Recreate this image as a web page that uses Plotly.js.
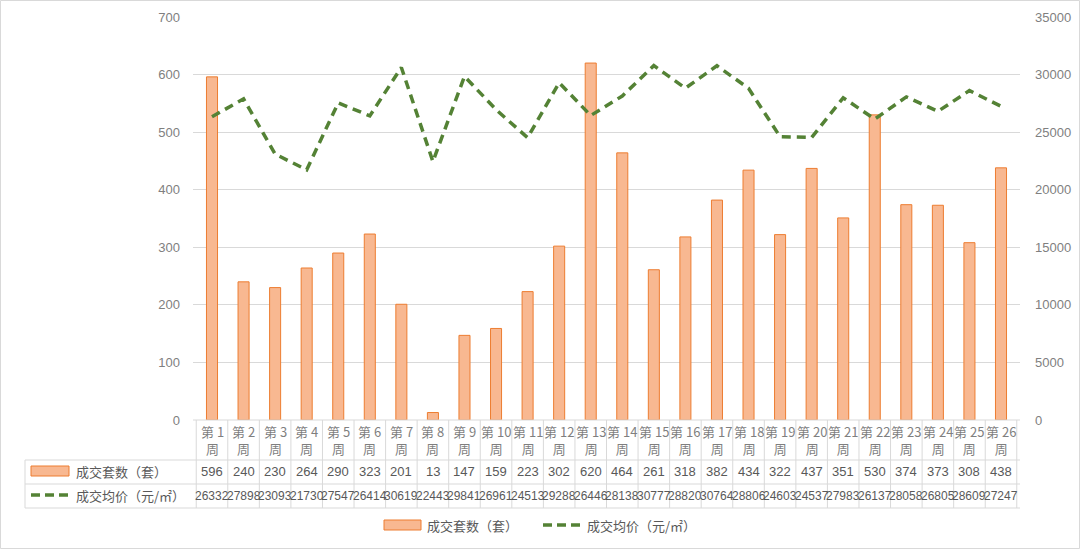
<!DOCTYPE html>
<html><head><meta charset="utf-8">
<script src="https://cdn.plot.ly/plotly-3.0.1.min.js"></script>
<style>html,body{margin:0;padding:0;background:#fff;}#chart{width:1080px;height:549px;}</style>
</head><body><div id="chart"></div>
<script>
const categories = ['第 1 周','第 2 周','第 3 周','第 4 周','第 5 周','第 6 周','第 7 周','第 8 周','第 9 周','第 10 周','第 11 周','第 12 周','第 13 周','第 14 周','第 15 周','第 16 周','第 17 周','第 18 周','第 19 周','第 20 周','第 21 周','第 22 周','第 23 周','第 24 周','第 25 周','第 26 周'];
const deals = [596,240,230,264,290,323,201,13,147,159,223,302,620,464,261,318,382,434,322,437,351,530,374,373,308,438];
const prices = [26332,27898,23093,21730,27547,26414,30619,22443,29841,26961,24513,29288,26446,28138,30777,28820,30764,28806,24603,24537,27983,26137,28058,26805,28609,27247];
const seriesNames = ['成交套数（套）','成交均价（元/㎡）'];

const W = 1080, H = 549, ML = 193, MR = 60, MT = 17, MB = 129;
const PW = W - ML - MR, PH = H - MT - MB;
const px = x => (x - ML) / PW;           // pixel x -> paper x
const py = y => (H - MB - y) / PH;       // pixel y -> paper y

const txt = '#595959', grid = '#D9D9D9';
const barFill = '#F8B891', barLine = '#ED7D31', lineCol = '#548235';
const font = "'Noto Sans CJK SC', 'Liberation Sans', sans-serif";
const numFont = "'Liberation Sans', 'Noto Sans CJK SC', sans-serif";

const traces = [
  {type:'bar', x:categories, y:deals, name:seriesNames[0], width:0.35,
   marker:{color:barFill, line:{color:barLine, width:1}}, yaxis:'y', hoverinfo:'skip'},
  {type:'scatter', mode:'lines', x:categories, y:prices, name:seriesNames[1], yaxis:'y2',
   line:{color:lineCol, width:3.5, dash:'9px,6px'}, hoverinfo:'skip'}
];

const shapes = [];
const annotations = [];
const rowY = [420, 460, 484, 508];
shapes.push({type:'line', xref:'paper', yref:'paper', x0:px(193), x1:1, y0:py(420), y1:py(420), line:{color:grid, width:1}});
for (const y of rowY.slice(1)) {
  shapes.push({type:'line', xref:'paper', yref:'paper', x0:px(25), x1:1, y0:py(y), y1:py(y), line:{color:grid, width:1}});
}
for (let i = 0; i <= categories.length; i++) {
  shapes.push({type:'line', xref:'x', yref:'paper', x0:i-0.5, x1:i-0.5, y0:py(420), y1:py(508), line:{color:grid, width:1}});
}
shapes.push({type:'line', xref:'paper', yref:'paper', x0:px(25), x1:px(25), y0:py(460), y1:py(508), line:{color:grid, width:1}});
// row legend keys
shapes.push({type:'rect', xref:'paper', yref:'paper', x0:px(31), x1:px(69), y0:py(466), y1:py(476), fillcolor:barFill, line:{color:barLine, width:1}});
shapes.push({type:'line', xref:'paper', yref:'paper', x0:px(31), x1:px(69), y0:py(495), y1:py(495), line:{color:lineCol, width:3.5, dash:'9px,5px'}});
// bottom legend keys
shapes.push({type:'rect', xref:'paper', yref:'paper', x0:px(384), x1:px(421), y0:py(520), y1:py(530), fillcolor:barFill, line:{color:barLine, width:1}});
shapes.push({type:'line', xref:'paper', yref:'paper', x0:px(543), x1:px(581), y0:py(525), y1:py(525), line:{color:lineCol, width:3.5, dash:'9px,5px'}});
// chart border
shapes.push({type:'rect', xref:'paper', yref:'paper', x0:px(0.5), x1:px(W-0.5), y0:py(H-0.5), y1:py(0.5), line:{color:grid, width:1}});

categories.forEach((c, i) => {
  const parts = c.split(' ');
  annotations.push({xref:'x', yref:'paper', x:i, y:py(440), text:parts[0]+' '+parts[1]+'<br>'+parts[2], showarrow:false,
    font:{family:font, size:13, color:'#7F7F7F'}, xanchor:'center', yanchor:'middle'});
  annotations.push({xref:'x', yref:'paper', x:i, y:py(472), text:String(deals[i]), showarrow:false,
    font:{family:numFont, size:13, color:txt}, xanchor:'center', yanchor:'middle'});
  annotations.push({xref:'x', yref:'paper', x:i, y:py(496), text:String(prices[i]), showarrow:false,
    font:{family:numFont, size:12, color:txt}, xanchor:'center', yanchor:'middle'});
});
annotations.push({xref:'paper', yref:'paper', x:px(74), y:py(471), text:seriesNames[0], showarrow:false,
  font:{family:font, size:13, color:txt}, xanchor:'left', yanchor:'middle'});
annotations.push({xref:'paper', yref:'paper', x:px(74), y:py(495), text:seriesNames[1], showarrow:false,
  font:{family:font, size:13, color:txt}, xanchor:'left', yanchor:'middle'});
annotations.push({xref:'paper', yref:'paper', x:px(425), y:py(525), text:seriesNames[0], showarrow:false,
  font:{family:font, size:13, color:txt}, xanchor:'left', yanchor:'middle'});
annotations.push({xref:'paper', yref:'paper', x:px(585), y:py(525), text:seriesNames[1], showarrow:false,
  font:{family:font, size:13, color:txt}, xanchor:'left', yanchor:'middle'});

const layout = {
  width:W, height:H, margin:{l:ML, r:MR, t:MT, b:MB},
  paper_bgcolor:'#fff', plot_bgcolor:'#fff',
  showlegend:false,
  xaxis:{type:'category', showticklabels:false, showgrid:false, zeroline:false, showline:false, ticks:'', fixedrange:true},
  yaxis:{range:[0,700], dtick:100, gridcolor:grid, gridwidth:1, zeroline:false, showline:false, ticks:'',
    tickfont:{family:numFont, size:13, color:'#7F7F7F'}, ticklabelstandoff:12},
  yaxis2:{range:[0,35000], dtick:5000, tickformat:'d', overlaying:'y', side:'right', showgrid:false, zeroline:false, showline:false, ticks:'',
    tickfont:{family:numFont, size:13, color:'#7F7F7F'}, ticklabelstandoff:14},
  shapes, annotations
};
Plotly.newPlot('chart', traces, layout, {staticPlot:true, displayModeBar:false});
</script></body></html>
